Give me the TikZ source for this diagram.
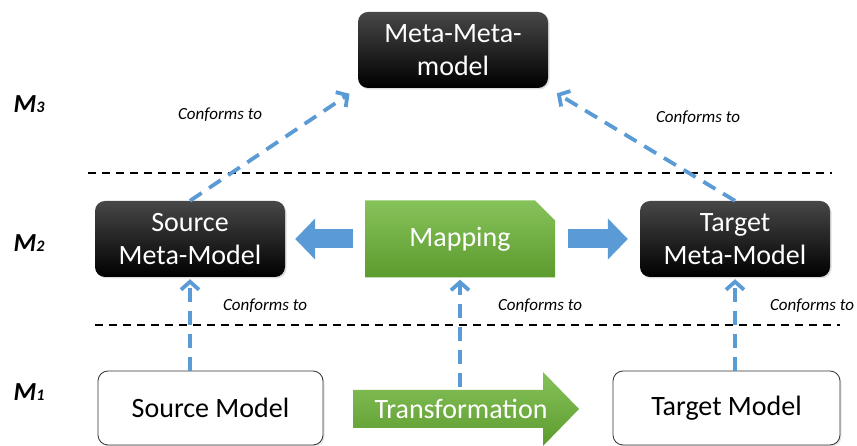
\documentclass[tikz,border=0pt]{standalone}
\usepackage{fontspec}
\setmainfont{Carlito}
\usetikzlibrary{arrows.meta,shapes.misc,shadows}
\definecolor{mdblue}{HTML}{5B9BD5}
\definecolor{mdgreenlight}{HTML}{86C25A}
\definecolor{mdgreendark}{HTML}{5C9B2E}
\tikzset{
	boxfont/.style={font=\fontsize{28}{33}\selectfont},
	blackbox/.style={boxfont, rectangle, rounded corners=10pt, top color=black!72, middle color=black, bottom color=black, text=white, align=center, minimum width=190pt, minimum height=76pt, inner sep=0pt, drop shadow={opacity=0.25, shadow xshift=1.5pt, shadow yshift=-1.5pt}},
	whitebox/.style={boxfont, rectangle, rounded corners=10pt, draw=black!80, line width=0.8pt, fill=white, minimum height=74pt, inner sep=0pt, drop shadow={opacity=0.2, shadow xshift=1.5pt, shadow yshift=-1.5pt}},
	greenbox/.style={boxfont, chamfered rectangle, chamfered rectangle corners=north east, chamfered rectangle xsep=10pt, chamfered rectangle ysep=10pt, top color=mdgreenlight, bottom color=mdgreendark, text=white, minimum width=190pt, minimum height=77pt, inner sep=0pt},
	greenarrow/.style={top color=mdgreenlight, bottom color=mdgreendark},
	blockarrow/.style={draw=mdblue, line width=19pt, -{Triangle[length=20pt,width=40pt]}},
	conforms/.style={draw=mdblue, line width=3.8pt, dash pattern=on 14pt off 9pt, -{Straight Barb[length=8pt,width=18pt]}},
	conformslabel/.style={font=\fontsize{17}{20}\selectfont\itshape},
	levellabel/.style={font=\fontsize{26}{30}\selectfont\bfseries\itshape},
	levelline/.style={draw=black, line width=1.5pt, dash pattern=on 8pt off 6pt}
}
\begin{document}
\begin{tikzpicture}[x=1pt,y=1pt]
		%%%%% START %%%%%
		\useasboundingbox (0,0) rectangle (857,446);
		
		% levels
		\node[levellabel] (mthree) at (29,342) {M\fontsize{16}{18}\selectfont 3};
		\node[levellabel] (mtwo) at (29,203) {M\fontsize{16}{18}\selectfont 2};
		\node[levellabel] (mone) at (29,54) {M\fontsize{16}{18}\selectfont 1};
		\draw[levelline] (88,273) -- (832,273);
		\draw[levelline] (95,121) -- (840,121);
		
		% boxes
		\node[blackbox] (metameta) at (453,396) {Meta-Meta-\\model};
		\node[blackbox] (srcmeta) at (190,207) {Source\\Meta-Model};
		\node[greenbox] (mapping) at (460,207) {Mapping};
		\node[blackbox] (tgtmeta) at (735,207) {Target\\Meta-Model};
		\node[whitebox, minimum width=225pt] (srcmodel) at (210.5,38) {Source Model};
		\node[whitebox, minimum width=227pt] (tgtmodel) at (726.5,38) {Target Model};
		
		% transformation
		\shade[greenarrow] (353,56) -- (543,56) -- (543,74) -- (579,37) -- (543,0) -- (543,18) -- (353,18) -- cycle;
		\node[boxfont, text=white] (transform) at (461,37) {Transformation};
		\coordinate (transtop) at (460,59);
		
		% block arrows
		\draw[blockarrow, shorten <=12pt, shorten >=10pt] (mapping.west) -- (srcmeta.east);
		\draw[blockarrow, shorten <=13pt, shorten >=12pt] (mapping.east) -- (tgtmeta.west);
		
		% conforms to
		\draw[conforms, shorten >=10pt] (srcmeta.north) -- (metameta.south west);
		\draw[conforms, shorten >=10pt] (tgtmeta.north) -- (metameta.south east);
		\draw[conforms, shorten >=2pt] (srcmodel.north -| srcmeta.south) -- (srcmeta.south);
		\draw[conforms, shorten >=2pt] (transtop) -- (transtop |- mapping.south);
		\draw[conforms, shorten >=2pt] (tgtmodel.north -| tgtmeta.south) -- (tgtmeta.south);
		
		\node[conformslabel] (conformsa) at (220,331) {Conforms to};
		\node[conformslabel] (conformsb) at (698,328) {Conforms to};
		\node[conformslabel] (conformsc) at (265,140) {Conforms to};
		\node[conformslabel] (conformsd) at (540,140) {Conforms to};
		\node[conformslabel] (conformse) at (812,140) {Conforms to};
		%%%%% END %%%%%
	\end{tikzpicture}
\end{document}
